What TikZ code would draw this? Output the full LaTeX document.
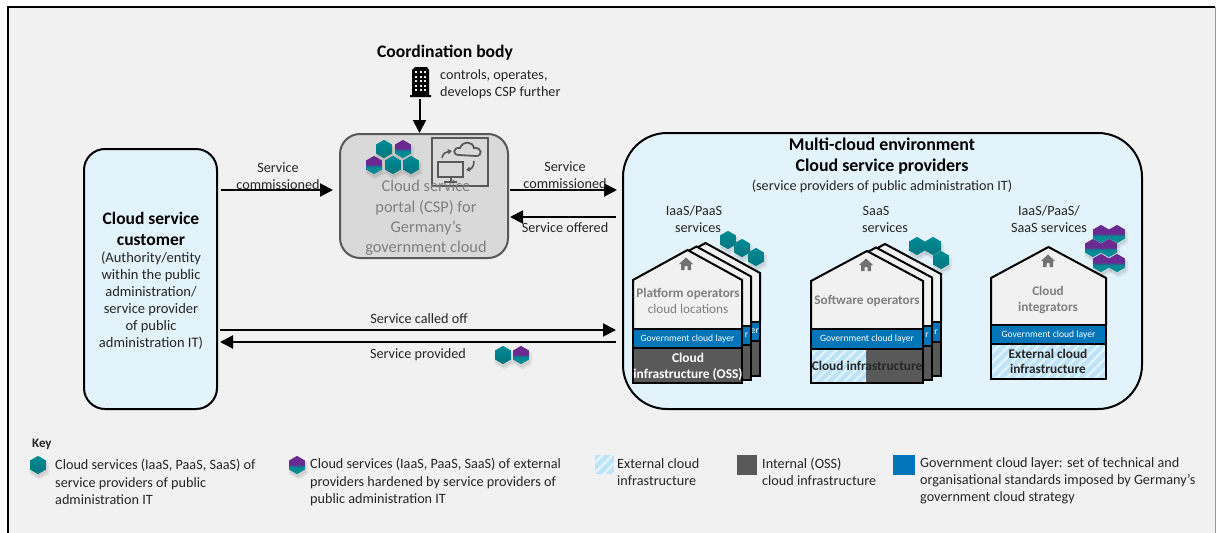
\documentclass[tikz,border=0pt]{standalone}
\usepackage{fontspec}
\setmainfont{Carlito}
\usetikzlibrary{arrows.meta,patterns.meta}
\definecolor{bgc}{HTML}{F1F1F1}
\definecolor{paleb}{HTML}{E3F3FB}
\definecolor{hatchb}{HTML}{BDE3F8}
\definecolor{govb}{HTML}{0075B8}
\definecolor{darkg}{HTML}{595959}
\definecolor{midg}{HTML}{7F7F7F}
\definecolor{txt}{HTML}{262626}
\definecolor{tealh}{HTML}{008B94}
\definecolor{purph}{HTML}{6A2A92}
\pgfdeclareverticalshading{hexteal}{100bp}{color(0bp)=(tealh!85!black); color(25bp)=(tealh!85!black); color(75bp)=(tealh); color(100bp)=(tealh)}
\pgfdeclareverticalshading{hexpurp}{100bp}{color(0bp)=(tealh); color(25bp)=(tealh); color(44bp)=(tealh); color(52bp)=(purph); color(75bp)=(purph); color(100bp)=(purph)}
\tikzset{
 lab/.style={font=\fontsize{14.2}{17}\selectfont,text=txt,align=center,inner sep=0pt},
 keytext/.style={font=\fontsize{14.2}{17.2}\selectfont,text=txt,align=left,anchor=west,inner sep=0pt},
 flow/.style={line width=2pt,-{Triangle[length=13pt,width=13pt]}},
 edgeline/.style={line width=2pt,black,line join=miter},
 greytitle/.style={font=\fontsize{13.2}{16}\selectfont,text=midg,align=center,inner sep=0pt},
 govtext/.style={font=\fontsize{9.6}{11}\selectfont,text=white,inner sep=0pt},
 hatch/.style={preaction={fill=hatchb},pattern={Lines[angle=45,distance=7pt,line width=2.4pt]},pattern color=paleb},
 iconline/.style={darkg,line width=2pt}
}
% hexagon helpers
\newcommand{\hexpath}[3]{(#1,#2-#3) -- (#1+0.866*#3,#2-0.5*#3) -- (#1+0.866*#3,#2+0.5*#3) -- (#1,#2+#3) -- (#1-0.866*#3,#2+0.5*#3) -- (#1-0.866*#3,#2-0.5*#3) -- cycle}
\newcommand{\hexshadow}[2]{%
 \fill[black,opacity=.06] \hexpath{#1+1.5}{#2+3.5}{11};
 \fill[black,opacity=.08] \hexpath{#1+1}{#2+3}{9.5};}
\newcommand{\hexT}[2]{\hexshadow{#1}{#2}\shade[shading=hexteal] \hexpath{#1}{#2}{9.1};}
\newcommand{\hexP}[2]{\hexshadow{#1}{#2}\shade[shading=hexpurp] \hexpath{#1}{#2}{9.1};}
% house icon
\newcommand{\homeicon}[2]{%
 \fill[darkg!85!white] (#1-7,#2) -- (#1,#2-6.5) -- (#1+7,#2) -- (#1+5,#2) -- (#1+5,#2+6) -- (#1+1.5,#2+6) -- (#1+1.5,#2+2) -- (#1-1.5,#2+2) -- (#1-1.5,#2+6) -- (#1-5,#2+6) -- (#1-5,#2) -- cycle;}
% house outline: left,right,apex y,shoulder,layer top,layer bottom,bottom
\newcommand{\housebody}[7]{%
 \pgfmathsetmacro{\hc}{(#1+#2)/2}
 \fill[bgc] (#1,#4) -- (\hc,#3) -- (#2,#4) -- (#2,#5) -- (#1,#5) -- cycle;
 \draw[edgeline] (#1,#5) -- (#1,#4) -- (\hc,#3) -- (#2,#4) -- (#2,#5);
 \fill[govb] (#1,#5) rectangle (#2,#6);
 \draw[edgeline] (#1,#5) rectangle (#2,#6);
 \fill[darkg] (#1,#6) rectangle (#2,#7);
 \draw[edgeline] (#1,#6) rectangle (#2,#7);
}
\begin{document}
\begin{tikzpicture}[x=1pt,y=-1pt]
\useasboundingbox (0,0) rectangle (1216,533);
\fill[white] (0,0) rectangle (1216,533);
\fill[bgc] (8,7) rectangle (1216,533);
\draw[line width=2pt,black] (8,533) -- (8,7) -- (1215,7);
\draw[line width=.8pt,black!40] (1215,7) -- (1215,533);

% main boxes
\node[draw=black,line width=2pt,fill=paleb,rounded corners=21pt,minimum width=133pt,minimum height=260pt,inner sep=0pt] (customer) at (150.5,279) {};
\node[font=\fontsize{17.5}{21}\selectfont\bfseries,align=center,inner sep=0pt] (custtitle) at (151,228.5) {Cloud service\\customer};
\node[lab,font=\fontsize{14.5}{17}\selectfont] (custtext) at (151,301) {(Authority/entity\\within the public\\administration/\\service provider\\of public\\administration IT)};
\node[draw=darkg,line width=2pt,fill=black!15,rounded corners=20pt,minimum width=168pt,minimum height=124pt,inner sep=0pt] (csp) at (424,196) {};
\node[draw=black,line width=2pt,fill=paleb,rounded corners=44pt,minimum width=519pt,minimum height=276pt,inner sep=0pt] (multi) at (882.5,271) {};

% csp content
\node[draw=darkg,line width=2pt,minimum width=56pt,minimum height=48pt,inner sep=0pt] (portalicon) at (460,162) {};
\draw[iconline] (438,162) rectangle (463,177);
\draw[iconline] (450.5,177) -- (450.5,181) (444,182) -- (457,182);
\draw[iconline,line width=1.8pt] (459,155) .. controls (452,155) and (453,147) .. (460,148) .. controls (463,140) and (474,142) .. (474,148) .. controls (482,147) and (483,156) .. (476,156) -- cycle;
\draw[iconline,line width=1.6pt,-{Triangle[length=4pt,width=5pt]}] (442,158) .. controls (443,153) and (446,152) .. (452,151);
\draw[iconline,line width=1.6pt,-{Triangle[length=4pt,width=5pt]}] (474,161) .. controls (474,167) and (471,169) .. (466,170);
\node[greytitle,font=\fontsize{16.4}{20.4}\selectfont] (csplabel) at (426,218) {Cloud service\\portal (CSP) for\\Germany’s\\government cloud};
\hexT{384}{149}\hexP{403}{149}\hexP{374}{165}\hexT{393}{165}\hexT{411}{165}

% coordination
\node[font=\fontsize{17.6}{18}\selectfont\bfseries,inner sep=0pt] (coordtitle) at (445,53) {Coordination body};
\node[lab,align=left,anchor=west] (coordtext) at (440,84) {controls, operates,\\develops CSP further};
\fill[black] (412,70) -- (415,67) -- (427,67) -- (429,70) -- (429,95) -- (431,95) -- (431,97) -- (410,97) -- (410,95) -- (412,95) -- cycle;
\foreach \xx in {415,419.5,424} \foreach \yy in {71,75.5,80,84.5,89} \fill[bgc] (\xx,\yy) rectangle +(2,2);
\coordinate (coordfoot) at (419.5,99);
\draw[flow] (coordfoot) -- (csp.north -| coordfoot);

% arrows
\coordinate (a1) at (221,190); \coordinate (a2) at (333,190);
\draw[flow] (a1) -- (a2);
\node[lab] (l1) at (278,176.5) {Service\\commissioned};
\coordinate (b1) at (510,190); \coordinate (b2) at (617,190);
\draw[flow] (b1) -- (b2);
\node[lab] (l2) at (565,175) {Service\\commissioned};
\coordinate (c1) at (616,217); \coordinate (c2) at (510,217);
\draw[flow] (c1) -- (c2);
\node[lab] (l3) at (565,227.5) {Service offered};
\coordinate (d1) at (220,330); \coordinate (d2) at (616,330);
\draw[flow] (d1) -- (d2);
\node[lab] (l4) at (419,319) {Service called off};
\coordinate (e1) at (616,342); \coordinate (e2) at (220,342);
\draw[flow] (e1) -- (e2);
\node[lab] (l5) at (418,355) {Service provided};
\hexT{503}{355}\hexP{521}{355}

% multi cloud text
\node[font=\fontsize{17.9}{21}\selectfont\bfseries,align=center,inner sep=0pt] (mtitle) at (882,156.5) {Multi-cloud environment\\Cloud service providers};
\node[lab] (msub) at (882,186) {(service providers of public administration IT)};
\node[lab] (s1a) at (694,210.5) {IaaS/PaaS};
\node[lab] (s1b) at (698,227.5) {services};
\node[lab] (s2a) at (876,210.5) {SaaS};
\node[lab] (s2b) at (885,227.5) {services};
\node[lab] (s3) at (1049,219) {IaaS/PaaS/\\SaaS services};

% platform operators
\housebody{651}{760}{243}{273}{322}{341}{376}
\node[govtext] (pb3) at (755,331.5) {er};
\housebody{642}{751}{246.5}{276.5}{325.5}{344.5}{379.5}
\node[govtext] (pb2) at (746.5,335) {r};
\housebody{633}{742}{250}{280}{329}{348}{383}
\node[govtext] (pg) at (687.5,338.5) {Government cloud layer};
\homeicon{686}{264}
\node[greytitle,align=center] (p1) at (688,301) {\bfseries Platform operators\\cloud locations};
\node[font=\fontsize{13.4}{16}\selectfont\bfseries,text=white,align=center,inner sep=0pt] (p2) at (688,366.5) {Cloud\\infrastructure (OSS)};
\hexT{728}{240}\hexT{742}{248}\hexT{756}{257}

% software operators
\housebody{829}{941}{244}{274}{322}{342}{376}
\node[govtext] (qb3) at (936,332) {r};
\housebody{820}{932}{247.5}{277.5}{325.5}{345.5}{379.5}
\node[govtext] (qb2) at (927,335.5) {r};
\housebody{811}{923}{251}{281}{329}{349}{383}
\node[govtext] (qg) at (867,339) {Government cloud layer};
\fill[hatch] (812,350) rectangle (866,382);
\draw[edgeline] (811,349) rectangle (923,383);
\homeicon{866}{265}
\node[greytitle] (q1) at (867,301) {\bfseries Software operators};
\node[font=\fontsize{13.3}{16}\selectfont\bfseries,text=black!85,inner sep=0pt] (q2) at (867,365.5) {Cloud infrastructure};
\hexT{917}{246}\hexT{933}{246}\hexT{941}{260}

% integrators
\housebody{991}{1106}{247}{278}{325}{344}{379}
\node[govtext] (rg) at (1048.5,334.5) {Government cloud layer};
\fill[hatch,draw=black,line width=2pt] (991,344) rectangle (1106,379);
\homeicon{1048}{261}
\node[greytitle,align=center] (r1) at (1048,300) {\bfseries Cloud\\\bfseries integrators};
\node[font=\fontsize{13.3}{15.5}\selectfont\bfseries,text=black!85,align=center,inner sep=0pt] (r2) at (1048,361.5) {External cloud\\infrastructure};
\hexP{1101}{234}\hexP{1117}{234}\hexP{1093}{248}\hexP{1109}{248}\hexP{1101}{263}\hexP{1117}{263}

% key
\node[font=\fontsize{13}{15}\selectfont\bfseries,text=txt,anchor=west,inner sep=0pt] (keyt) at (32,444) {Key};
\hexT{38}{465}
\node[keytext] (k1) at (55,482) {Cloud services (IaaS, PaaS, SaaS) of\\service providers of public\\administration IT};
\hexP{297}{465}
\node[keytext] (k2) at (310,482) {Cloud services (IaaS, PaaS, SaaS) of external\\providers hardened by service providers of\\public administration IT};
\fill[hatch] (595,455) rectangle (614,474);
\node[keytext] (k3) at (617,472) {External cloud\\infrastructure};
\fill[darkg] (737,455) rectangle (757,475);
\node[keytext] (k4) at (762,472) {Internal (OSS)\\cloud infrastructure};
\fill[govb] (893,455) rectangle (915,475);
\node[keytext] (k5) at (920,480.5) {Government cloud layer: set of technical and\\organisational standards imposed by Germany’s\\government cloud strategy};
\end{tikzpicture}
\end{document}
